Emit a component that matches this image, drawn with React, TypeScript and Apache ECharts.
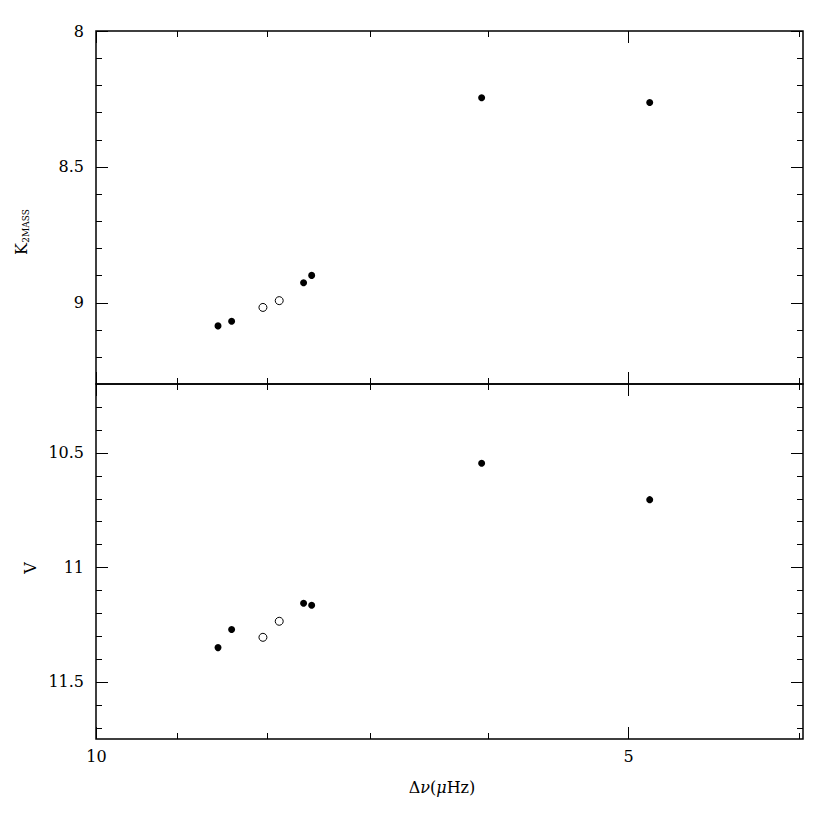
import React, { useEffect, useRef } from 'react';
import * as echarts from 'echarts';

// Δν (μHz) of the stars, filled and open symbols
const dnuFilled = [8.53, 8.38, 7.63, 7.55, 6.05, 4.86];
const kFilled = [9.086, 9.069, 8.927, 8.9, 8.246, 8.263];
const vFilled = [11.351, 11.272, 11.157, 11.166, 10.546, 10.705];
const dnuOpen = [8.045, 7.876];
const kOpen = [9.018, 8.993];
const vOpen = [11.306, 11.236];

// axis ranges
const xRange = [3.98, 10];
const kRange = [8, 9.3];
const vRange = [10.2, 11.75];

// ticks
const xMajorTicks = [10, 5];
const xTickLabels = ['10', '5'];
const xMinorTicks = [9, 8, 7, 6, 4];
const kMajorTicks = [8, 8.5, 9];
const kMinorTicks = [8.1, 8.2, 8.3, 8.4, 8.6, 8.7, 8.8, 8.9, 9.1, 9.2];
const vMajorTicks = [10.5, 11, 11.5];
const vMinorTicks = [10.3, 10.4, 10.6, 10.7, 10.8, 10.9, 11.1, 11.2, 11.3, 11.4, 11.6, 11.7];

const FONT = '"DejaVu Serif", "Liberation Serif", serif';

const makeTicks = (yMajor: number[], yMinor: number[], yRef: number) => [
  ...xMajorTicks.map((v) => [v, yRef, 0, 12]),
  ...xMinorTicks.map((v) => [v, yRef, 0, 6]),
  ...yMajor.map((v) => [7, v, 1, 12]),
  ...yMinor.map((v) => [7, v, 1, 6]),
];

const tickRenderer = (showXLabels: boolean) => (params: any, api: any) => {
  const cs = params.coordSys;
  const kind = api.value(2);
  const len = api.value(3);
  const st = { stroke: '#000', lineWidth: 1 };
  if (kind === 0) {
    const xv = api.value(0);
    const px = Math.round(api.coord([xv, api.value(1)])[0]) + 0.5;
    const top = cs.y;
    const bot = cs.y + cs.height;
    const children: any[] = [
      { type: 'line', shape: { x1: px, y1: bot, x2: px, y2: bot - len }, style: st },
      { type: 'line', shape: { x1: px, y1: top, x2: px, y2: top + len }, style: st },
    ];
    if (showXLabels) {
      const i = xMajorTicks.indexOf(xv);
      if (i >= 0) {
        children.push({
          type: 'text',
          x: px,
          y: bot + 9,
          style: {
            text: xTickLabels[i],
            fill: '#000',
            font: `16px ${FONT}`,
            align: 'center',
            verticalAlign: 'top',
          },
        });
      }
    }
    return { type: 'group', children };
  }
  const py = Math.round(api.coord([api.value(0), api.value(1)])[1]) + 0.5;
  const left = cs.x;
  const right = cs.x + cs.width;
  return {
    type: 'group',
    children: [
      { type: 'line', shape: { x1: left, y1: py, x2: left + len, y2: py }, style: st },
      { type: 'line', shape: { x1: right, y1: py, x2: right - len, y2: py }, style: st },
    ],
  };
};

const labelFmt = (majors: number[]) => (v: number) =>
  majors.some((t) => Math.abs(t - v) < 1e-6) ? String(Math.round(v * 10) / 10) : '';

export default function App() {
  const ref = useRef<HTMLDivElement>(null);
  useEffect(() => {
    if (!ref.current) return;
    const chart = echarts.init(ref.current, undefined, { renderer: 'svg' });
    const gridCommon = {
      left: 96,
      width: 707,
      show: true,
      borderColor: '#000',
      borderWidth: 1.5,
      backgroundColor: 'transparent',
    };
    const xCommon = {
      type: 'log' as const,
      logBase: 10,
      min: xRange[0],
      max: xRange[1],
      inverse: true,
      axisLine: { show: false },
      axisTick: { show: false },
      axisLabel: { show: false },
      splitLine: { show: false },
    };
    const yCommon = {
      type: 'value' as const,
      inverse: true,
      interval: 0.1,
      axisLine: { show: false },
      axisTick: { show: false },
      splitLine: { show: false },
    };
    const filledStyle = { color: '#000', opacity: 1 };
    const openStyle = { color: '#fff', borderColor: '#000', borderWidth: 1, opacity: 1 };
    chart.setOption({
      animation: false,
      backgroundColor: '#fff',
      grid: [
        { ...gridCommon, top: 31, height: 353 },
        { ...gridCommon, top: 384, height: 355 },
      ],
      xAxis: [
        { ...xCommon, gridIndex: 0 },
        { ...xCommon, gridIndex: 1 },
      ],
      yAxis: [
        {
          ...yCommon,
          gridIndex: 0,
          min: kRange[0],
          max: kRange[1],
          axisLabel: { margin: 12, color: '#000', fontSize: 16, fontFamily: FONT, formatter: labelFmt(kMajorTicks) },
        },
        {
          ...yCommon,
          gridIndex: 1,
          min: vRange[0],
          max: vRange[1],
          axisLabel: { margin: 12, color: '#000', fontSize: 16, fontFamily: FONT, formatter: labelFmt(vMajorTicks) },
        },
      ],
      series: [
        {
          type: 'custom',
          xAxisIndex: 0,
          yAxisIndex: 0,
          silent: true,
          renderItem: tickRenderer(false),
          data: makeTicks(kMajorTicks, kMinorTicks, kRange[0]),
          z: 1,
        },
        {
          type: 'custom',
          xAxisIndex: 1,
          yAxisIndex: 1,
          silent: true,
          renderItem: tickRenderer(true),
          data: makeTicks(vMajorTicks, vMinorTicks, vRange[0]),
          z: 1,
        },
        {
          type: 'scatter',
          xAxisIndex: 0,
          yAxisIndex: 0,
          symbol: 'circle',
          symbolSize: 7,
          itemStyle: filledStyle,
          data: dnuFilled.map((d, i) => [d, kFilled[i]]),
          z: 3,
        },
        {
          type: 'scatter',
          xAxisIndex: 0,
          yAxisIndex: 0,
          symbol: 'circle',
          symbolSize: 8,
          itemStyle: openStyle,
          data: dnuOpen.map((d, i) => [d, kOpen[i]]),
          z: 3,
        },
        {
          type: 'scatter',
          xAxisIndex: 1,
          yAxisIndex: 1,
          symbol: 'circle',
          symbolSize: 7,
          itemStyle: filledStyle,
          data: dnuFilled.map((d, i) => [d, vFilled[i]]),
          z: 3,
        },
        {
          type: 'scatter',
          xAxisIndex: 1,
          yAxisIndex: 1,
          symbol: 'circle',
          symbolSize: 8,
          itemStyle: openStyle,
          data: dnuOpen.map((d, i) => [d, vOpen[i]]),
          z: 3,
        },
      ],
      graphic: [
        {
          type: 'text',
          x: 442,
          y: 787,
          style: {
            text: '{n|Δ}{i|ν}{n|(}{i|μ}{n|Hz)}',
            align: 'center',
            verticalAlign: 'middle',
            fill: '#000',
            rich: {
              n: { fontSize: 16, fontFamily: FONT, fill: '#000' },
              i: { fontSize: 16, fontFamily: FONT, fontStyle: 'italic', fill: '#000' },
            },
          },
        },
        {
          type: 'text',
          x: 21,
          y: 249,
          rotation: Math.PI / 2,
          style: { text: 'K', font: `16px ${FONT}`, fill: '#000', align: 'center', verticalAlign: 'middle' },
        },
        {
          type: 'text',
          x: 26,
          y: 226,
          rotation: Math.PI / 2,
          style: { text: '2MASS', font: `9px ${FONT}`, fill: '#000', align: 'center', verticalAlign: 'middle' },
        },
        {
          type: 'text',
          x: 30,
          y: 568,
          rotation: Math.PI / 2,
          style: { text: 'V', font: `16px ${FONT}`, fill: '#000', align: 'center', verticalAlign: 'middle' },
        },
      ],
    });
    return () => chart.dispose();
  }, []);
  return (
    <div
      ref={ref}
      style={{ position: 'absolute', left: 0, top: 0, width: 822, height: 813 }}
    />
  );
}
